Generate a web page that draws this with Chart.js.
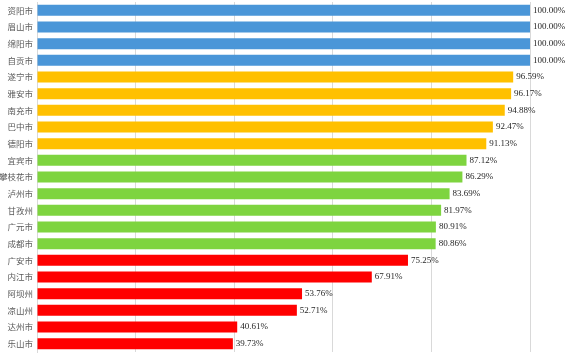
<!DOCTYPE html>
<html>
<head>
<meta charset="utf-8">
<script src="https://cdn.jsdelivr.net/npm/chart.js@4/dist/chart.umd.min.js"></script>
<style>
  html, body { margin: 0; padding: 0; background: #fff; }
  #wrap { width: 576px; height: 354px; }
</style>
</head>
<body>
<div id="wrap"><canvas id="chartCanvas"></canvas></div>
<script>
// chart data
var cities = ['资阳市', '眉山市', '绵阳市', '自贡市', '遂宁市', '雅安市', '南充市', '巴中市', '德阳市',
  '宜宾市', '攀枝花市', '泸州市', '甘孜州', '广元市', '成都市', '广安市', '内江市', '阿坝州', '凉山州', '达州市', '乐山市']
var rates = [100.00, 100.00, 100.00, 100.00, 96.59, 96.17, 94.88, 92.47, 91.13,
  87.12, 86.29, 83.69, 81.97, 80.91, 80.86, 75.25, 67.91, 53.76, 52.71, 40.61, 39.73]
var xTicks = [0, 20, 40, 60, 80, 100]

// bar colour by band
function barColor(v) {
  if (v >= 100) return '#4a96d8'
  if (v >= 90) return '#ffc000'
  if (v >= 80) return '#7ed43f'
  return '#ff0000'
}

// draw the value after each bar
var valueLabels = {
  id: 'valueLabels',
  afterDatasetsDraw: function(chart) {
    var ctx = chart.ctx
    var meta = chart.getDatasetMeta(0)
    ctx.save()
    ctx.font = '9px "Liberation Serif", "DejaVu Serif", serif'
    ctx.fillStyle = '#262626'
    ctx.textAlign = 'left'
    ctx.textBaseline = 'middle'
    meta.data.forEach(function(bar, i) {
      ctx.fillText(rates[i].toFixed(2) + '%', bar.x + 3, bar.y)
    })
    ctx.restore()
  }
}

var ctx = document.getElementById('chartCanvas').getContext('2d')
var myChart = new Chart(ctx, {
  type: 'bar',
  data: {
    labels: cities,
    datasets: [{
      data: rates,
      backgroundColor: rates.map(barColor),
      borderWidth: 0,
      barPercentage: 0.66,
      categoryPercentage: 1
    }]
  },
  options: {
    indexAxis: 'y',
    responsive: true,
    maintainAspectRatio: false,
    animation: false,
    layout: { padding: { top: 2, right: 46, bottom: 2, left: 0 } },
    plugins: {
      legend: { display: false },
      tooltip: { enabled: false }
    },
    scales: {
      x: {
        min: 0,
        max: 100,
        afterBuildTicks: function(axis) {
          axis.ticks = xTicks.map(function(v) { return { value: v } })
        },
        afterFit: function(axis) {
          axis.height = 0
          axis.paddingLeft = 0
          axis.paddingRight = 0
        },
        ticks: { display: false },
        grid: { color: '#d9d9d9', drawTicks: false },
        border: { display: false }
      },
      y: {
        afterFit: function(axis) {
          axis.width = 37
          axis.paddingTop = 0
          axis.paddingBottom = 0
        },
        ticks: {
          color: '#595959',
          padding: 4,
          font: { size: 8.5, family: '"Noto Sans CJK SC", sans-serif' }
        },
        grid: { display: false, drawTicks: false },
        border: { display: true, color: '#d9d9d9' }
      }
    }
  },
  plugins: [valueLabels]
})
</script>
</body>
</html>
